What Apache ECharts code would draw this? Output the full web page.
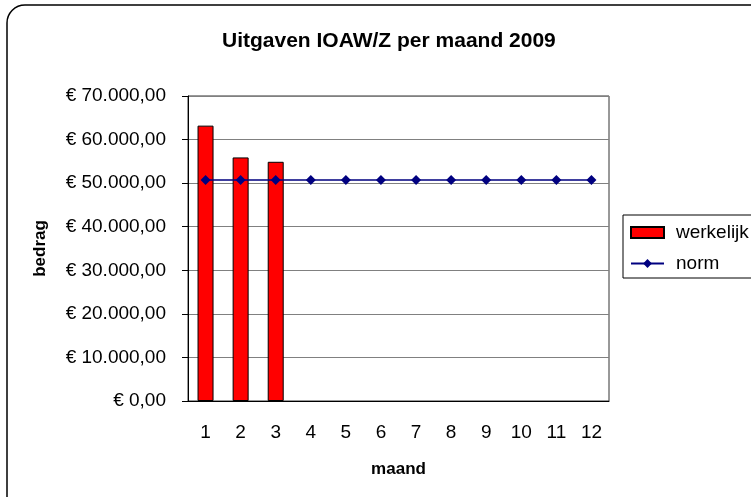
<!DOCTYPE html>
<html>
<head>
<meta charset="utf-8">
<script src="https://cdn.jsdelivr.net/npm/echarts@6/dist/echarts.min.js"></script>
<style>
  html, body { margin: 0; padding: 0; background: #fff; }
  #chart { width: 751px; height: 497px; }
</style>
</head>
<body>
<div id="chart"></div>
<script>
// data
var maanden = ['1', '2', '3', '4', '5', '6', '7', '8', '9', '10', '11', '12']
var werkelijk = [63200, 55900, 54900, null, null, null, null, null, null, null, null, null]
var norm = [50700, 50700, 50700, 50700, 50700, 50700, 50700, 50700, 50700, 50700, 50700, 50700]

var font = '"Liberation Sans", Arial, sans-serif'

function euro(v) {
  var s = String(Math.round(v)).replace(/\B(?=(\d{3})+(?!\d))/g, '.')
  return '€ ' + s + ',00'
}

var chart = echarts.init(document.getElementById('chart'))
chart.setOption({
  animation: false,
  textStyle: { fontFamily: font },
  graphic: [{
    // chart frame, runs off the right and bottom edge
    type: 'rect',
    shape: { x: 7, y: 5, width: 770, height: 510, r: 18 },
    style: { fill: 'none', stroke: '#000', lineWidth: 1.5 },
    z: -1
  }, {
    // legend box
    type: 'rect',
    shape: { x: 623, y: 215, width: 140, height: 63 },
    style: { fill: 'none', stroke: '#000', lineWidth: 1 },
    z: -1
  }],
  title: {
    text: 'Uitgaven IOAW/Z per maand 2009',
    left: 217,
    top: 26,
    textStyle: { fontSize: 21, fontWeight: 'bold', color: '#000', fontFamily: font }
  },
  legend: {
    orient: 'vertical',
    left: 626,
    top: 219,
    itemWidth: 33,
    itemHeight: 11,
    itemGap: 12,
    padding: [4, 4, 4, 4],
    textStyle: { fontSize: 19, color: '#000', fontFamily: font, padding: [0, 0, 0, 7] },
    data: [
      { name: 'werkelijk', icon: 'rect' },
      { name: 'norm' }
    ]
  },
  grid: {
    left: 188,
    top: 96,
    right: 142,
    bottom: 96,
    show: true,
    borderColor: '#333',
    borderWidth: 1
  },
  xAxis: {
    type: 'category',
    data: maanden,
    name: 'maand',
    nameLocation: 'middle',
    nameGap: 60,
    nameTextStyle: { fontSize: 17, fontWeight: 'bold', color: '#000' },
    axisLine: { lineStyle: { color: '#000' } },
    axisTick: { length: 6, lineStyle: { color: '#000' } },
    axisLabel: { fontSize: 19, color: '#000', margin: 22 }
  },
  yAxis: {
    type: 'value',
    min: 0,
    max: 70000,
    interval: 10000,
    name: 'bedrag',
    nameLocation: 'middle',
    nameGap: 139,
    nameTextStyle: { fontSize: 17, fontWeight: 'bold', color: '#000' },
    axisLine: { show: true, lineStyle: { color: '#000' } },
    axisTick: { show: true, length: 6, lineStyle: { color: '#000' } },
    axisLabel: { fontSize: 19, color: '#000', margin: 22, formatter: euro },
    splitLine: { lineStyle: { color: '#808080' } }
  },
  series: [{
    name: 'werkelijk',
    type: 'bar',
    data: werkelijk,
    barWidth: 16,
    itemStyle: { color: '#ff0000', borderColor: '#000', borderWidth: 1 }
  }, {
    name: 'norm',
    type: 'line',
    data: norm,
    symbol: 'diamond',
    symbolSize: 10,
    lineStyle: { color: '#000080', width: 1.5 },
    itemStyle: { color: '#000080' }
  }]
})
</script>
</body>
</html>
